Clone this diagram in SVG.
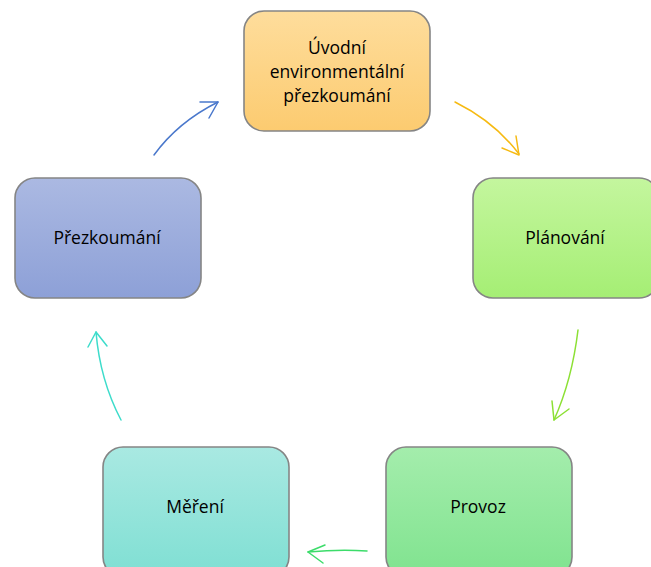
<svg xmlns="http://www.w3.org/2000/svg" width="651" height="567" viewBox="0 0 651 567">
<defs>
<linearGradient id="gOrange" x1="0" y1="0" x2="0" y2="1"><stop offset="0" stop-color="#fedd9c"/><stop offset="1" stop-color="#fccb70"/></linearGradient>
<linearGradient id="gLime" x1="0" y1="0" x2="0" y2="1"><stop offset="0" stop-color="#c4f69e"/><stop offset="1" stop-color="#a5ee74"/></linearGradient>
<linearGradient id="gGreen" x1="0" y1="0" x2="0" y2="1"><stop offset="0" stop-color="#a4edac"/><stop offset="1" stop-color="#80e38f"/></linearGradient>
<linearGradient id="gTeal" x1="0" y1="0" x2="0" y2="1"><stop offset="0" stop-color="#a9e9e2"/><stop offset="1" stop-color="#7fdfd3"/></linearGradient>
<linearGradient id="gBlue" x1="0" y1="0" x2="0" y2="1"><stop offset="0" stop-color="#abb9e2"/><stop offset="1" stop-color="#8da0d7"/></linearGradient>
</defs>
<style>
.box{stroke:#858585;stroke-width:1.6}
.lbl{font-family:"Open Sans","Noto Sans",sans-serif;font-size:17.5px;fill:#000;text-anchor:middle}
.arr{fill:none;stroke-width:1.5;stroke-linecap:round;stroke-linejoin:round}
</style>
<g id="node-uvodni">
<rect class="box" x="244" y="11" width="186" height="120" rx="20" fill="url(#gOrange)"/>
<text class="lbl" x="337" y="54">Úvodní</text>
<text class="lbl" x="337" y="78">environmentální</text>
<text class="lbl" x="337" y="102">přezkoumání</text>
</g>
<g id="node-planovani">
<rect class="box" x="473" y="178" width="186" height="120" rx="20" fill="url(#gLime)"/>
<text class="lbl" x="565" y="244">Plánování</text>
</g>
<g id="node-provoz">
<rect class="box" x="386" y="447" width="186" height="130" rx="20" fill="url(#gGreen)"/>
<text class="lbl" x="478" y="513">Provoz</text>
</g>
<g id="node-mereni">
<rect class="box" x="103" y="447" width="186" height="130" rx="20" fill="url(#gTeal)"/>
<text class="lbl" x="195" y="513">Měření</text>
</g>
<g id="node-prezkoumani">
<rect class="box" x="15" y="178" width="186" height="120" rx="20" fill="url(#gBlue)"/>
<text class="lbl" x="107" y="244">Přezkoumání</text>
</g>
<g id="connectors">
<path class="arr" stroke="#f6ba12" d="M455,102 Q495,122 519,154"/>
<path class="arr" stroke="#f6ba12" d="M502,148 L519,155 L516,136"/>
<path class="arr" stroke="#8ce034" d="M578,330 Q572,380 554,420"/>
<path class="arr" stroke="#8ce034" d="M552,401 L554,420 L569,409"/>
<path class="arr" stroke="#3cdc6a" d="M367,551 Q340,549 308,552"/>
<path class="arr" stroke="#3cdc6a" d="M325,545 L308,552 L323,563"/>
<path class="arr" stroke="#3ddccb" d="M121,420 Q100,380 96,332"/>
<path class="arr" stroke="#3ddccb" d="M88,347 L96,332 L107,346"/>
<path class="arr" stroke="#4a78cc" d="M154,155 Q178,122 218,102"/>
<path class="arr" stroke="#4a78cc" d="M200,102 L218,102 L209,118"/>
</g>
</svg>
